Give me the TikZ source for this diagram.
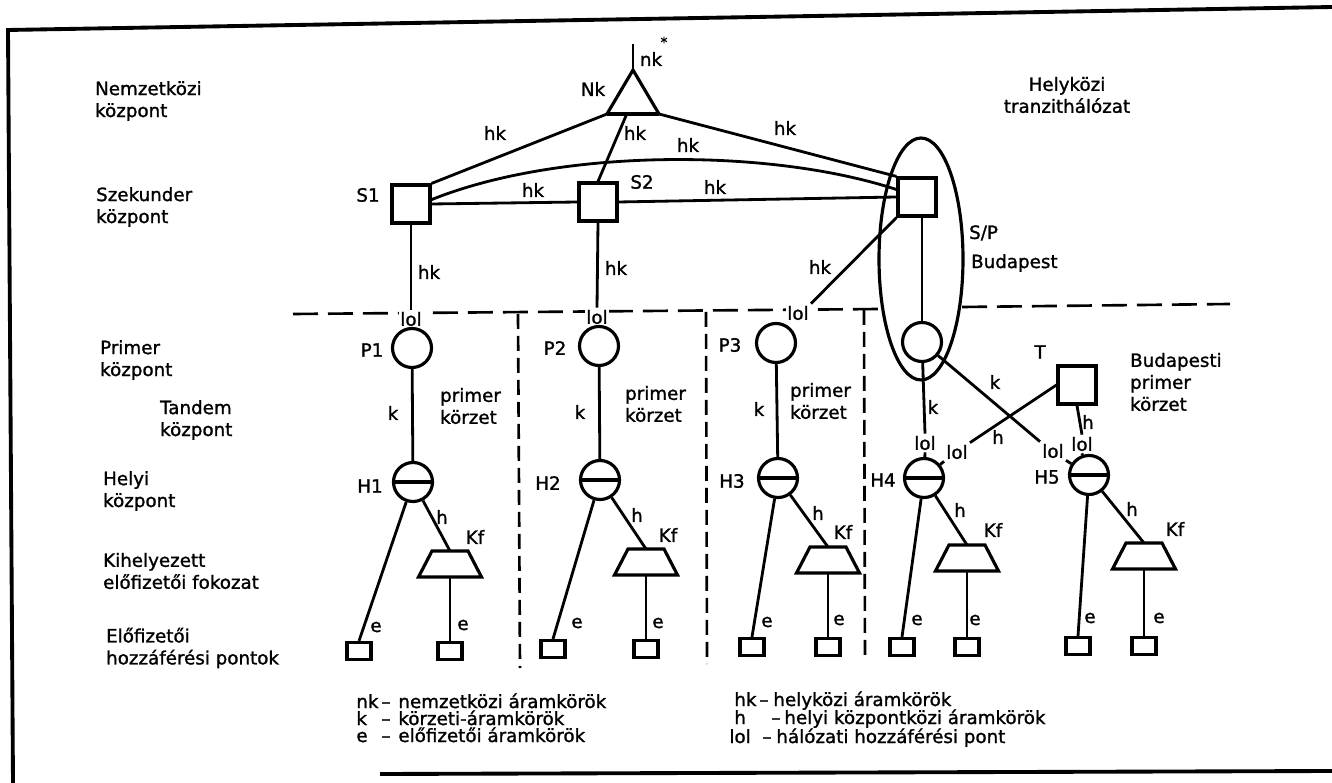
\documentclass[tikz,border=0pt]{standalone}
\usepackage{fontspec}
\setmainfont{DejaVu Sans}[FakeBold=1.3]
\usetikzlibrary{calc}
\begin{document}
\begin{tikzpicture}[x=0.02cm, y=-0.02cm, line width=1.6pt,
  every node/.style={font=\fontsize{10.4}{12.5}\selectfont, inner sep=1pt},
  box/.style={draw, rectangle, minimum size=0.76cm, inner sep=0pt, line width=1.8pt},
  pcirc/.style={draw, circle, minimum size=0.78cm, inner sep=0pt, line width=1.8pt},
  hcirc/.style={pcirc, path picture={\draw[line width=1.8pt] (path picture bounding box.west) -- (path picture bounding box.east);}},
  sq/.style={draw, rectangle, minimum width=0.48cm, minimum height=0.34cm, inner sep=0pt, line width=1.8pt},
  lolb/.style={fill=white, inner sep=0.5pt},
  hdash/.style={dash pattern=on 0.5cm off 0.2cm, line width=1.5pt},
  vdash/.style={dash pattern=on 0.3cm off 0.14cm, line width=1.5pt},
  txt/.style={anchor=west, align=left},
  leg/.style={anchor=base west, inner sep=0pt},
  legd/.style={anchor=base, inner sep=0pt},
  kfpic/.pic={
    \draw[line width=1.8pt, line join=miter] (-18,-13) -- (18,-13) -- (31.5,13) -- (-31.5,13) -- cycle;
    \coordinate (-t) at (0,-13);
    \coordinate (-b) at (0,13);
  }
]
\useasboundingbox (0,0) rectangle (1332,783);

% frame
\draw[line width=2.2pt] (1332,7) -- (8,30) -- (13,783);
\draw[line width=2.2pt] (380,774) -- (1332,771);

% left column texts
\node[txt] at (92,101) {Nemzetközi\\központ};
\node[txt] at (93,207) {Szekunder\\központ};
\node[txt] at (97,360) {Primer\\központ};
\node[txt] at (157,420) {Tandem\\központ};
\node[txt] at (100,491) {Helyi\\központ};
\node[txt] at (100,571) {Kihelyezett\\előfizetői fokozat};
\node[txt] at (103,648) {Előfizetői\\hozzáférési pontok};

% dashed borders
\draw[hdash] (293,314) -- (880,309);
\draw[hdash] (962,307) -- (1230,304);
\draw[vdash] (518,314) -- (520,668);
\draw[vdash] (706,312) -- (707,664);
\draw[vdash] (864,310) -- (865,660);

% international exchange
\coordinate (nkA) at (633,70);
\coordinate (nkL) at (607,114);
\coordinate (nkR) at (659,114);
\coordinate (nkT) at (633,44);
\draw[line width=1.8pt, line join=miter] (nkL) -- (nkA) -- (nkR);
\draw[line width=2.8pt] (nkL) -- (nkR);
\draw (nkA) -- (nkT);
\node at (651,59) {nk};
\node[font=\fontsize{8}{9}\selectfont, inner sep=0pt] at (664,42) {*};
\node at (593,89) {Nk};

% secondary exchanges
\node[box] (S1) at (411,204) {};
\node[box] (S2) at (598,202) {};
\node[box] (SP) at (917,197) {};
\node at (368,195) {S1};
\node at (642,182) {S2};
\draw[line width=1.8pt] (921,259) ellipse [x radius=0.84cm, y radius=2.42cm];
\node[txt] at (966,233) {S/P};
\node[txt] at (968,263) {Budapest};
\node[align=center] at (1067,95) {Helyközi\\tranzithálózat};

\draw (S1.north east) -- (nkL);
\draw (S2.north) -- ($(nkL)!0.38!(nkR)$);
\draw (nkR) -- (SP.north west);
\draw (S1.12) .. controls (560,148) and (770,148) .. (SP.160);
\draw (S1.east) -- (S2.west);
\draw (S2.east) -- (SP.west);

\node at (495,133) {hk};
\node at (635,133) {hk};
\node at (688,145) {hk};
\node at (785,128) {hk};
\node at (533,190) {hk};
\node at (715,187) {hk};
\node at (429,272) {hk};
\node at (616,268) {hk};
\node at (820,267) {hk};

% network access points on the border
\node[lolb] (L1) at (411,319) {lol};
\node[lolb] (L2) at (597,317) {lol};
\node[lolb] (L3) at (798,313) {lol};
\draw (S1.south) -- (L1.north);
\draw (S2.south) -- (L2.north);
\draw (SP.south west) -- (L3.north east);

% primary exchanges
\node[pcirc] (P1) at (412,348) {};
\node[pcirc] (P2) at (599,346) {};
\node[pcirc] (P3) at (776,343) {};
\node[pcirc] (BP) at (922,342) {};
\node at (372,350) {P1};
\node at (555,348) {P2};
\node at (730,345) {P3};
\draw (SP.south -| BP.north) -- (BP.north);

\node at (393,413) {k};
\node at (580,412) {k};
\node at (759,409) {k};
\node[txt] at (437,406) {primer\\körzet};
\node[txt] at (622,404) {primer\\körzet};
\node[txt] at (787,401) {primer\\körzet};

% tandem
\node[box] (T) at (1077,385) {};
\node at (1040,352) {T};
\node[txt] at (1127,382) {Budapesti\\primer\\körzet};

% local exchanges
\node[hcirc] (H1) at (413,482) {};
\node[hcirc] (H2) at (600,480) {};
\node[hcirc] (H3) at (778,478) {};
\node[hcirc] (H4) at (924,478) {};
\node[hcirc] (H5) at (1089,475) {};
\node at (370,486) {H1};
\node at (548,483) {H2};
\node at (732,481) {H3};
\node at (883,480) {H4};
\node at (1047,477) {H5};

\draw (P1) -- (H1);
\draw (P2) -- (H2);
\draw (P3) -- (H3);

\node[inner sep=0.5pt] (L4a) at (925,443) {lol};
\node[inner sep=0.5pt] (L4b) at (957,452) {lol};
\node[inner sep=0.5pt] (L5a) at (1053,451) {lol};
\node[inner sep=0.5pt] (L5b) at (1082,444) {lol};
\draw (BP) -- (L4a.north);
\draw (L4a.south) -- (H4);
\draw (BP) -- (L5a.north west);
\draw (L5a.south east) -- (H5);
\draw (T.west) -- (L4b.north east);
\draw (L4b.south west) -- (H4);
\draw (T.south) -- (L5b.north);
\draw (L5b.south) -- (H5);
\node at (933,407) {k};
\node at (995,382) {k};
\node at (998,437) {h};
\node at (1088,422) {h};

% remote subscriber stages
\pic (kf1) at (450,564) {kfpic};
\pic (kf2) at (646,562) {kfpic};
\pic (kf3) at (828,560) {kfpic};
\pic (kf4) at (967,558) {kfpic};
\pic (kf5) at (1144,556) {kfpic};
\node at (475,537) {Kf};
\node at (668,535) {Kf};
\node at (843,532) {Kf};
\node at (993,530) {Kf};
\node at (1175,529) {Kf};
\node at (442,517) {h};
\node at (637,515) {h};
\node at (818,513) {h};
\node at (960,510) {h};
\node at (1132,509) {h};

% subscriber access points
\node[sq] (e1a) at (359,651) {};
\node[sq] (e1b) at (450,651) {};
\node[sq] (e2a) at (553,649) {};
\node[sq] (e2b) at (646,649) {};
\node[sq] (e3a) at (752,647) {};
\node[sq] (e3b) at (828,647) {};
\node[sq] (e4a) at (902,647) {};
\node[sq] (e4b) at (967,647) {};
\node[sq] (e5a) at (1078,646) {};
\node[sq] (e5b) at (1144,646) {};

\draw (H1) -- (e1a.north);
\draw (H1) -- (kf1-t);
\draw (kf1-b) -- (e1b.north);
\draw (H2) -- (e2a.north);
\draw (H2) -- (kf2-t);
\draw (kf2-b) -- (e2b.north);
\draw (H3) -- (e3a.north);
\draw (H3) -- (kf3-t);
\draw (kf3-b) -- (e3b.north);
\draw (H4) -- (e4a.north);
\draw (H4) -- (kf4-t);
\draw (kf4-b) -- (e4b.north);
\draw (H5) -- (e5a.north);
\draw (H5) -- (kf5-t);
\draw (kf5-b) -- (e5b.north);

\node at (376,627) {e};
\node at (463,625) {e};
\node at (577,623) {e};
\node at (658,623) {e};
\node at (767,622) {e};
\node at (839,620) {e};
\node at (917,620) {e};
\node at (975,620) {e};
\node at (1090,618) {e};
\node at (1159,618) {e};

% legend (baselines)
\node[leg] at (355,708) {nk};
\node[legd] at (386,708) {–};
\node[leg] at (397,708) {nemzetközi áramkörök};
\node[leg] at (355,725) {k};
\node[legd] at (386,725) {–};
\node[leg] at (397,725) {körzeti-áramkörök};
\node[leg] at (355,742) {e};
\node[legd] at (386,742) {–};
\node[leg] at (397,742) {előfizetői áramkörök};

\node[leg] at (733,706) {hk};
\node[legd] at (764,706) {–};
\node[leg] at (772,706) {helyközi áramkörök};
\node[leg] at (733,724) {h};
\node[legd] at (776,724) {–};
\node[leg] at (783,724) {helyi központközi áramkörök};
\node[leg] at (728,743) {lol};
\node[legd] at (767,743) {–};
\node[leg] at (775,743) {hálózati hozzáférési pont};
\end{tikzpicture}
\end{document}
